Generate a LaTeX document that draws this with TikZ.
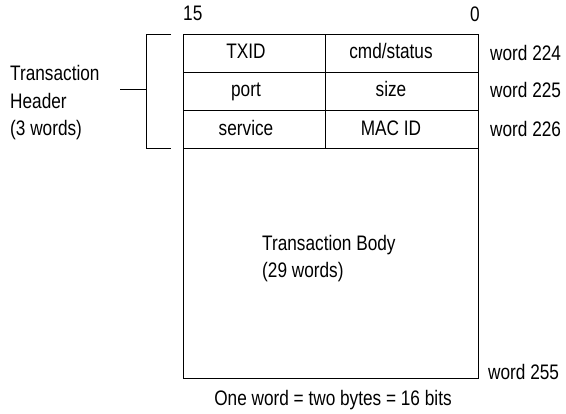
\documentclass[tikz,border=0pt]{standalone}
\usepackage{fontspec}
\setmainfont{Liberation Sans}[FakeStretch=0.82]

\tikzset{
  frame/.style={line width=1pt, black},
  celltext/.style={anchor=base, inner sep=0pt},
  wordtext/.style={anchor=base west, inner sep=0pt},
}

\begin{document}
\begin{tikzpicture}[x=1pt, y=-1pt, font=\fontsize{21}{27.5}\selectfont]
\useasboundingbox (0,0) rectangle (566,414);

% frame of the transaction
\draw[frame] (183,35) rectangle (478,379);
\draw[frame] (183,73)--(478,73);
\draw[frame] (183,111)--(478,111);
\draw[frame] (183,149)--(478,149);
\draw[frame] (325,35)--(325,149);

% bit numbers
\node[anchor=base west, inner sep=0pt] (bit15) at (183,21) {15};
\node[anchor=base east, inner sep=0pt] (bit0) at (480,22) {0};

% header words
\node[celltext] (txid) at (246,59) {TXID};
\node[celltext] (cmd) at (391,59) {cmd/status};
\node[celltext] (port) at (246,97) {port};
\node[celltext] (size) at (391,97) {size};
\node[celltext] (service) at (246,136) {service};
\node[celltext] (macid) at (391,136) {MAC ID};

\node[wordtext] (w224) at (490,61) {word 224};
\node[wordtext] (w225) at (490,98) {word 225};
\node[wordtext] (w226) at (490,137) {word 226};
\node[wordtext] (w255) at (488,380) {word 255};

% body (base = last line)
\node[anchor=base west, inner sep=0pt, align=left] (body) at (262,278) {Transaction Body\\(29 words)};

% header bracket
\node[anchor=base west, inner sep=0pt, align=left] (hdr) at (10,136) {Transaction\\Header\\(3 words)};
\coordinate (brtop) at (171,35);
\coordinate (brbot) at (171,149);
\coordinate (brmid) at (146,90);
\coordinate (stub) at (120,90);
\draw[frame] (brtop) -- (146,35) -- (146,149) -- (brbot);
\draw[frame] (stub) -- (brmid);

% caption
\node[anchor=base, inner sep=0pt] (caption) at (333,406) {One word = two bytes = 16 bits};

\end{tikzpicture}
\end{document}
